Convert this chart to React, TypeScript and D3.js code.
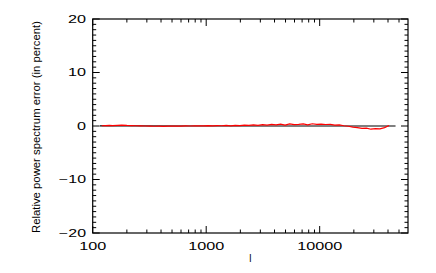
import React from "react";
import * as d3 from "d3";

const redL = [120,130,140,150,165,180,200,220,240,265,290,320,350,385,420,460,500,550,600,660,720,790,870,950,1040,1140,1250,1370,1500,1650,1800,1980,2170,2380,2610,2860,3140,3440,3770,4130,4530,4960,5440,5960,6530,7160,7850,8600,9430,10300,11300,12400,13600,14900,16300,17900,19600,21500,23600,25800,28300,31000,34000,37300,40900];
const redV = [0.05,0.08,0.1,0.06,0.12,0.15,0.1,0.08,0.05,0.03,0.0,-0.02,-0.05,-0.04,-0.06,-0.03,-0.02,0.0,-0.03,0.02,0.0,0.03,0.05,0.02,0.06,0.04,0.08,0.05,0.1,0.03,0.12,0.08,0.15,0.1,0.2,0.12,0.25,0.15,0.3,0.2,0.35,0.18,0.4,0.25,0.3,0.38,0.22,0.42,0.3,0.35,0.28,0.32,0.15,0.2,0.05,-0.05,-0.2,-0.3,-0.45,-0.4,-0.6,-0.5,-0.55,-0.3,0.1];
const blackL = [116, 1000, 10000, 46600];
const blackV = [0.02, 0.0, 0.0, 0.0];
const xTicks = [100, 1000, 10000];
const yTicks = [-20, -10, 0, 10, 20];
const xTitle = "l";
const yTitle = "Relative power spectrum error (in percent)";

export default function App() {
  const W = 436, H = 273;
  const L = 92.7, R = 408, T = 19, B = 233;
  const x = d3.scaleLog().domain([100, 60000]).range([L, R]);
  const y = d3.scaleLinear().domain([-20, 20]).range([B, T]);
  const line = d3.line<[number, number]>().x(d => x(d[0])).y(d => y(d[1]));
  const red = redL.map((l, i) => [l, redV[i]] as [number, number]);
  const blk = blackL.map((l, i) => [l, blackV[i]] as [number, number]);

  const minorX: number[] = [];
  for (let p = 100; p < 100000; p *= 10) {
    for (let k = 2; k <= 9; k++) {
      const v = p * k;
      if (v < 60000) minorX.push(v);
    }
  }
  const minorY: number[] = [];
  for (let v = -20; v <= 20; v++) if (v % 10 !== 0) minorY.push(v);

  const font = "'Liberation Sans', Arial, sans-serif";
  const fmt = (v: number) => (v < 0 ? "\u2212" + Math.abs(v) : String(v));
  return (
    <svg width={W} height={H} style={{ position: "absolute", left: 0, top: 0, background: "#fff" }}>
      <g stroke="#000" strokeWidth={1}>
        {minorX.map(v => (
          <g key={"mx" + v}>
            <line x1={x(v)} x2={x(v)} y1={B} y2={B - 3.5} />
            <line x1={x(v)} x2={x(v)} y1={T} y2={T + 3.5} />
          </g>
        ))}
        {xTicks.map(v => (
          <g key={"Mx" + v}>
            <line x1={x(v)} x2={x(v)} y1={B} y2={B - 7} />
            <line x1={x(v)} x2={x(v)} y1={T} y2={T + 7} />
          </g>
        ))}
        {minorY.map(v => (
          <g key={"my" + v}>
            <line x1={L} x2={L + 3.5} y1={y(v)} y2={y(v)} />
            <line x1={R} x2={R - 3.5} y1={y(v)} y2={y(v)} />
          </g>
        ))}
        {yTicks.map(v => (
          <g key={"My" + v}>
            <line x1={L} x2={L + 7} y1={y(v)} y2={y(v)} />
            <line x1={R} x2={R - 7} y1={y(v)} y2={y(v)} />
          </g>
        ))}
        <rect x={L} y={T} width={R - L} height={B - T} fill="none" strokeWidth={1.2} />
      </g>
      <path d={line(blk) || ""} fill="none" stroke="#000" strokeWidth={1.2} />
      <path d={line(red) || ""} fill="none" stroke="#f00" strokeWidth={1.2} />
      <g fontFamily={font} fontSize={10} fill="#000">
        {xTicks.map(v => {
          const s = String(v);
          return (
            <text key={"xl" + v} x={x(v)} y={250} textAnchor="middle" textLength={s.length * 9} lengthAdjust="spacingAndGlyphs">{s}</text>
          );
        })}
        {yTicks.map(v => {
          const s = fmt(v);
          return (
            <text key={"yl" + v} x={86} y={y(v) + 3.5} textAnchor="end" textLength={s.length * 9} lengthAdjust="spacingAndGlyphs">{s}</text>
          );
        })}
        <text x={(L + R) / 2} y={262} textAnchor="middle">{xTitle}</text>
        <text transform={`translate(40,${(T + B) / 2 + 1}) rotate(-90)`} textAnchor="middle" fontSize={10.5} textLength={212} lengthAdjust="spacingAndGlyphs">{yTitle}</text>
      </g>
    </svg>
  );
}
